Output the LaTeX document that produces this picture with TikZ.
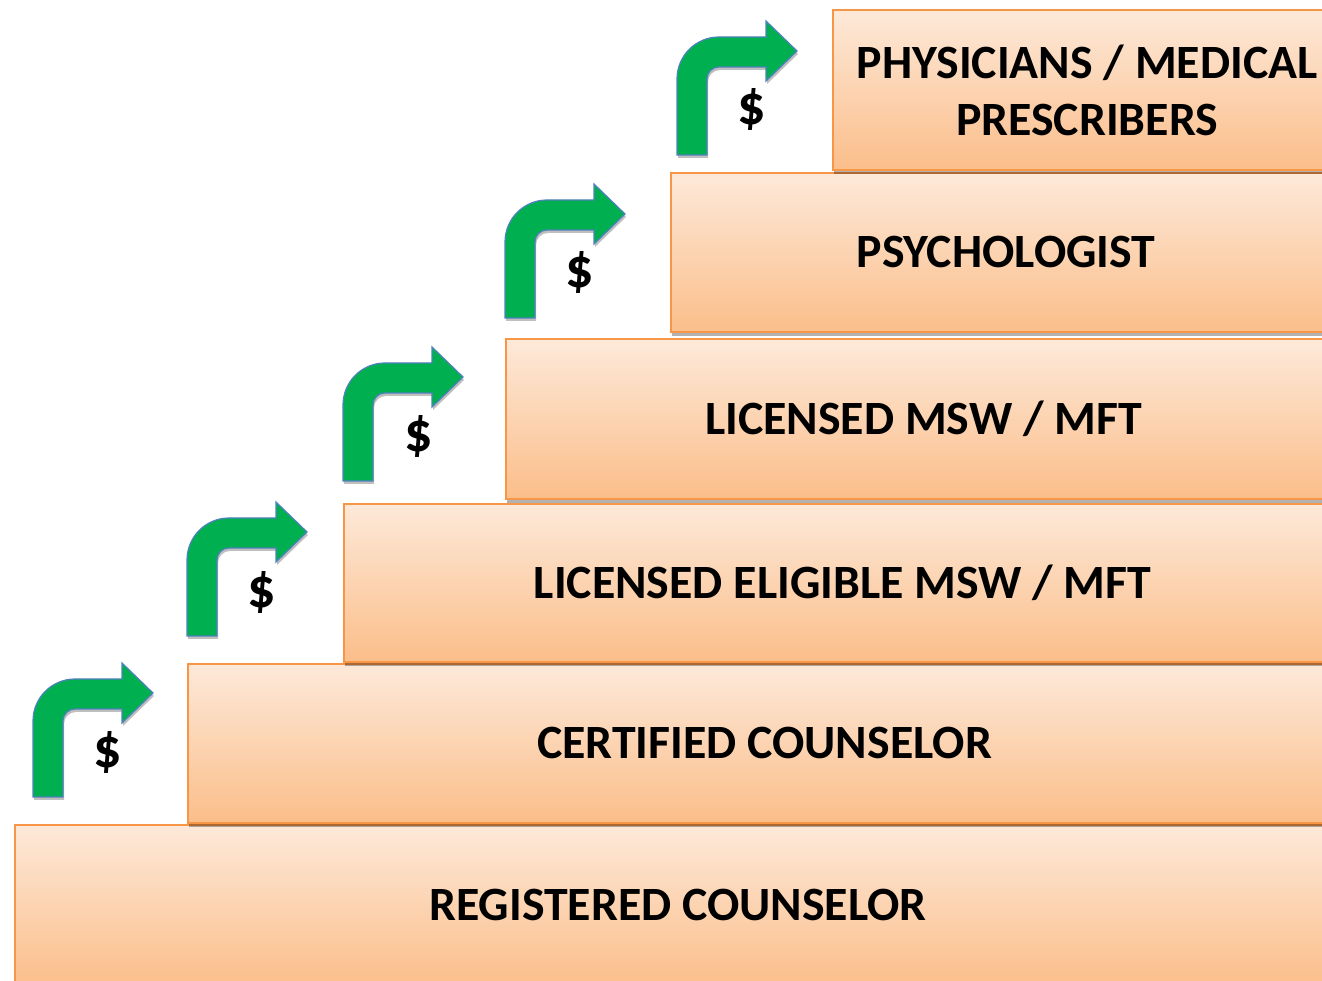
\documentclass[tikz,border=0pt]{standalone}
\usepackage{fontspec}
\setmainfont{Carlito}
\usetikzlibrary{shadows}
\definecolor{peachtop}{HTML}{FDE9D9}
\definecolor{peachbot}{HTML}{FBBE8A}
\definecolor{rimorange}{HTML}{F79646}
\definecolor{arrowgreen}{HTML}{00B050}
\definecolor{arrowrim}{HTML}{4F81BD}
\tikzset{
  stepbox/.style={draw=rimorange, line width=2pt, top color=peachtop,
    bottom color=peachbot, anchor=north west, inner sep=0pt, align=center,
    font=\fontsize{47.8}{57}\selectfont\bfseries,
    drop shadow={shadow xshift=1pt, shadow yshift=-4pt, fill=black, opacity=0.3}},
  dollar/.style={font=\fontsize{56}{60}\selectfont\bfseries, inner sep=0pt},
  arrowshape/.style={fill=arrowgreen, draw=arrowrim, line width=1.2pt, line join=miter,
    drop shadow={shadow xshift=1pt, shadow yshift=-3pt, fill=black, opacity=0.25}},
  bentarrow/.pic={
    \path[arrowshape] (0,0) -- (0,76) arc (180:90:42) -- (89,118) -- (89,134)
      -- (120,104) -- (89,74) -- (89,88) -- (42,88) arc (90:180:12) -- (30,0) -- cycle;
  }
}
\begin{document}
\begin{tikzpicture}[x=1pt,y=1pt]
  \useasboundingbox (0,0) rectangle (1322,981);
  \clip (0,0) rectangle (1322,981);
  % the ladder of steps, lowest first
  \node[stepbox, minimum width=1326pt, minimum height=161pt] (reg)   at (14,157)  {REGISTERED COUNSELOR};
  \node[stepbox, minimum width=1153pt, minimum height=159pt] (cert)  at (187,318) {CERTIFIED COUNSELOR};
  \node[stepbox, minimum width=997pt,  minimum height=158pt] (elig)  at (343,478) {LICENSED ELIGIBLE MSW / MFT};
  \node[stepbox, minimum width=835pt,  minimum height=160pt] (msw)   at (505,643) {LICENSED MSW / MFT};
  \node[stepbox, minimum width=670pt,  minimum height=159pt] (psych) at (670,809) {PSYCHOLOGIST};
  \node[stepbox, minimum width=508pt,  minimum height=160pt] (phys)  at (832,972) {PHYSICIANS / MEDICAL\\PRESCRIBERS};
  % bent arrows climbing to the next step
  \pic (a1) at (33,184) {bentarrow};
  \pic (a2) at (187,345) {bentarrow};
  \pic (a3) at (343,500) {bentarrow};
  \pic (a4) at (505,663) {bentarrow};
  \pic (a5) at (677,826) {bentarrow};
  % pay increase at each step
  \node[dollar] (d1) at (108,229) {\$};
  \node[dollar] (d2) at (262,389) {\$};
  \node[dollar] (d3) at (419,545) {\$};
  \node[dollar] (d4) at (580,708) {\$};
  \node[dollar] (d5) at (752,871) {\$};
\end{tikzpicture}
\end{document}
